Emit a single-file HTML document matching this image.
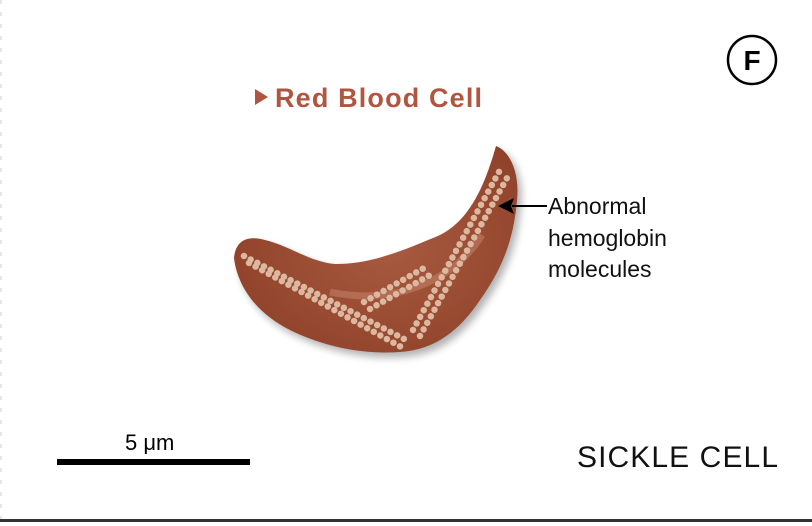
<!DOCTYPE html>
<html><head><style>
html,body{margin:0;padding:0;background:#fff;}
body{width:812px;height:526px;overflow:hidden;position:relative;font-family:"Liberation Sans",sans-serif;}
</style></head><body>
<svg width="812" height="526" viewBox="0 0 812 526" style="position:absolute;left:0;top:0">
<defs>
<radialGradient id="g" cx="0.55" cy="0.5" r="0.65">
<stop offset="0" stop-color="#a85a40"/>
<stop offset="1" stop-color="#8e4028"/>
</radialGradient>
<filter id="sh" x="-10%" y="-10%" width="130%" height="130%"><feGaussianBlur stdDeviation="4"/></filter>
</defs>
<line x1="1" y1="0" x2="1" y2="520" stroke="#ccc" stroke-dasharray="4 8"/>
<path id="c" d="M234,258 C236,238 250,236 265,240 C290,246 310,262 335,264 C370,264 400,252 440,235 C470,220 485,185 496,146 C508,150 520,170 517,200 C514,235 505,265 480,300 C460,330 435,350 400,352 C360,355 320,345 290,330 C260,315 238,290 234,258 Z" fill="#000" opacity="0.3" filter="url(#sh)" transform="translate(4,5)"/>
<path d="M234,258 C236,238 250,236 265,240 C290,246 310,262 335,264 C370,264 400,252 440,235 C470,220 485,185 496,146 C508,150 520,170 517,200 C514,235 505,265 480,300 C460,330 435,350 400,352 C360,355 320,345 290,330 C260,315 238,290 234,258 Z" fill="url(#g)"/>
<path d="M330,292 C390,305 450,285 482,235" stroke="#c99078" stroke-width="7" fill="none" opacity="0.45"/>
<g stroke="#dcb8a0" stroke-width="6.5" stroke-linecap="round" stroke-dasharray="0 7.5" fill="none">
<line x1="244" y1="256" x2="408" y2="341"/>
<line x1="249" y1="263" x2="403" y2="348"/>
<line x1="364" y1="302" x2="424" y2="268"/>
<line x1="370" y1="309" x2="430" y2="275"/>
<line x1="413" y1="330" x2="500" y2="170"/>
<line x1="420" y1="336" x2="507" y2="178"/>
</g>
<line x1="547" y1="206" x2="512" y2="206" stroke="#000" stroke-width="2"/>
<path d="M498,206 L514,198 L511,206 L514,214 Z" fill="#000"/>
<text x="548" y="214" font-size="23" fill="#111">Abnormal</text>
<text x="548" y="246" font-size="23" fill="#111">hemoglobin</text>
<text x="548" y="277" font-size="23" fill="#111">molecules</text>
<path d="M255,89 L268,97 L255,105 Z" fill="#b0553f"/>
<text x="275" y="107" font-size="27" font-weight="bold" fill="#b0553f" textLength="207">Red Blood Cell</text>
<circle cx="752" cy="60" r="24" fill="none" stroke="#000" stroke-width="2.5"/>
<text x="752" y="70" font-size="28" font-weight="bold" text-anchor="middle" fill="#000">F</text>
<rect x="57" y="459" width="193" height="6" fill="#000"/>
<text x="125" y="450" font-size="22" fill="#000">5 μm</text>
<text x="577" y="467" font-size="30" fill="#111" textLength="201">SICKLE CELL</text>
<rect x="0" y="519" width="812" height="3" fill="#333"/>
</svg>
</body></html>
